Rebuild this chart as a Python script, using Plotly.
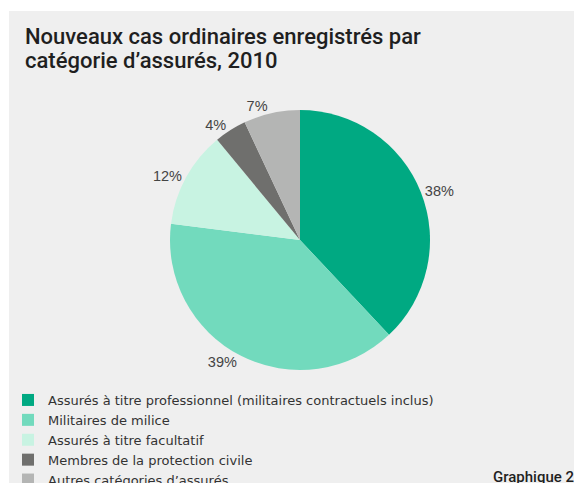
import plotly.graph_objects as go

categories = [
    "Assurés à titre professionnel (militaires contractuels inclus)",
    "Militaires de milice",
    "Assurés à titre facultatif",
    "Membres de la protection civile",
    "Autres catégories d’assurés",
]
values = [38, 39, 12, 4, 7]
colors = ["#00a982", "#72dabd", "#c8f3e2", "#6f6f6d", "#b4b5b4"]
title_lines = ["Nouveaux cas ordinaires enregistrés par", "catégorie d’assurés, 2010"]
source_text = "Graphique\u00a02"

# the page body has an 8px margin, so the figure occupies the rest of the window
OFF = 8
W, H = 582 - OFF, 483 - OFF
BG = "#efefef"
FONT = "Liberation Sans, Arial, sans-serif"
TITLE_FONT = "Roboto, Liberation Sans, Arial, sans-serif"
LEGEND_FONT = "DejaVu Sans, sans-serif"


def px(x):
    return (x - OFF) / W


def py(y):
    return 1 - (y - OFF) / H


fig = go.Figure(go.Pie(
    labels=categories,
    values=values,
    marker=dict(colors=colors, line=dict(width=0)),
    sort=False,
    direction="clockwise",
    rotation=0,
    texttemplate="%{percent:.0%}",
    textposition="outside",
    outsidetextfont=dict(family=FONT, size=14.5, color="#444444"),
    hoverinfo="label+percent",
    domain=dict(x=[px(170), px(430)], y=[py(370), py(110)]),
))

annotations = []
for i, line in enumerate(title_lines):
    annotations.append(dict(
        text=line, x=px(23), xanchor="left", y=py(37 + 24 * i), yanchor="middle",
        xref="paper", yref="paper", showarrow=False, align="left",
        font=dict(family=TITLE_FONT, size=22, color="#1f1f1f", weight=500),
    ))
annotations.append(dict(
    text=source_text, x=px(576), xanchor="right", y=py(477), yanchor="middle",
    xref="paper", yref="paper", showarrow=False,
    font=dict(family=TITLE_FONT, size=15, color="#1f1f1f", weight=500),
))

fig.update_layout(
    width=W, height=H,
    margin=dict(l=0, r=0, t=0, b=0, autoexpand=False),
    paper_bgcolor=BG,
    plot_bgcolor=BG,
    font=dict(family=FONT, color="#333333"),
    showlegend=True,
    legend=dict(
        x=px(8), xanchor="left",
        y=py(385), yanchor="top",
        bgcolor="rgba(0,0,0,0)",
        font=dict(family=LEGEND_FONT, size=13, color="#333333"),
        traceorder="normal",
        itemclick=False,
    ),
    shapes=[
        dict(type="rect", xref="paper", yref="paper", x0=0, x1=1, y0=py(11), y1=1,
             fillcolor="white", line=dict(width=0), layer="above"),
        dict(type="rect", xref="paper", yref="paper", x0=0, x1=px(9), y0=0, y1=1,
             fillcolor="white", line=dict(width=0), layer="above"),
    ],
    annotations=annotations,
)

fig.write_html("out.html")
